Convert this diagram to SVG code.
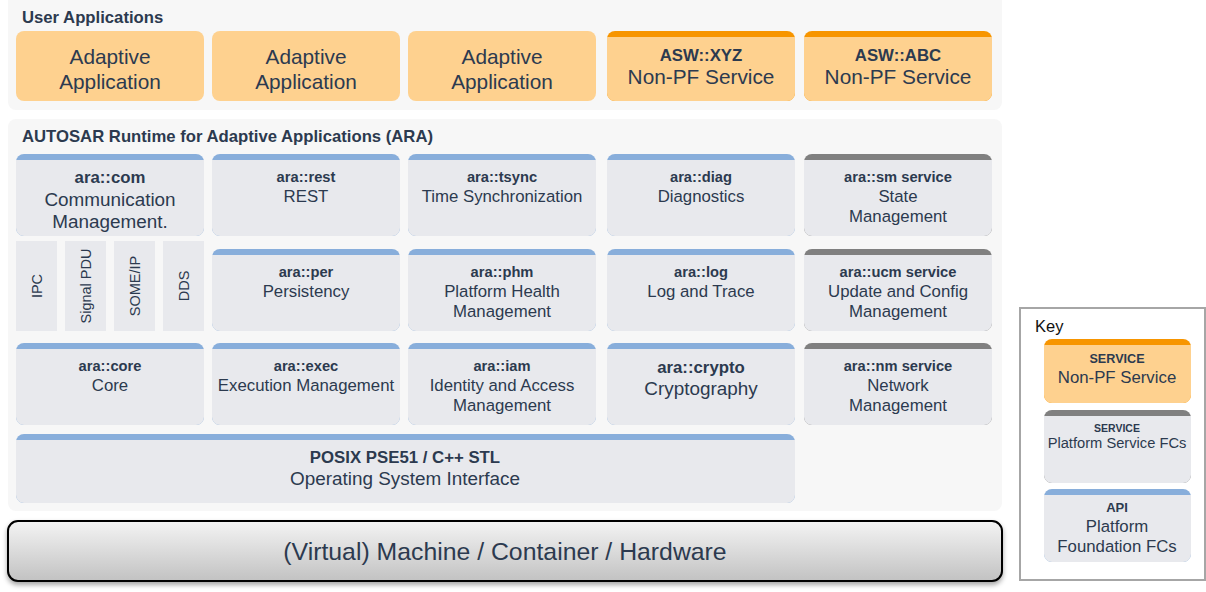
<svg xmlns="http://www.w3.org/2000/svg" width="1206" height="592" viewBox="0 0 1206 592">
<defs>
<style>
text{font-family:"Liberation Sans",Arial,sans-serif;fill:#2c3a4f;text-anchor:middle}
.ttl{font-size:16.7px;font-weight:bold;text-anchor:start}
.b14{font-size:14.7px;font-weight:bold}
.b16{font-size:16.8px;font-weight:bold}
.r16{font-size:16.8px}
.r18{font-size:18.9px}
.r20{font-size:20.8px}
.r14{font-size:14.5px}
.panel{fill:#f7f7f7}
.app{fill:#fed18f}
.obar{fill:#f79500}
.body{fill:#e8e9ed}
.bbar{fill:#88aedb}
.gbar{fill:#808080}
</style>
<linearGradient id="mach" x1="0" y1="0" x2="0" y2="1">
<stop offset="0" stop-color="#f4f4f4"/>
<stop offset="1" stop-color="#c2c2c2"/>
</linearGradient>
<filter id="sh" x="-5%" y="-20%" width="110%" height="150%">
<feDropShadow dx="0" dy="3" stdDeviation="2.5" flood-color="#000" flood-opacity="0.35"/>
</filter>
</defs>
<rect width="1206" height="592" fill="#ffffff"/>

<g id="user-apps">
<rect class="panel" x="8" y="-8" width="994" height="118" rx="8"/>
<text class="ttl" x="22" y="23">User Applications</text>
</g>
<g id="app1"><rect class="app" x="16" y="31" width="188" height="70" rx="8"/><text class="r20" x="110" y="64">Adaptive</text><text class="r20" x="110" y="89">Application</text></g>
<g id="app2"><rect class="app" x="212" y="31" width="188" height="70" rx="8"/><text class="r20" x="306" y="64">Adaptive</text><text class="r20" x="306" y="89">Application</text></g>
<g id="app3"><rect class="app" x="408" y="31" width="188" height="70" rx="8"/><text class="r20" x="502" y="64">Adaptive</text><text class="r20" x="502" y="89">Application</text></g>
<g id="asw-xyz"><rect class="obar" x="607" y="31" width="188" height="70" rx="8"/><path class="app" d="M607,37H795V93a8,8 0 0 1 -8,8H615a8,8 0 0 1 -8,-8Z"/><text class="b16" x="701" y="61">ASW::XYZ</text><text class="r20" x="701" y="84">Non-PF Service</text></g>
<g id="asw-abc"><rect class="obar" x="804" y="31" width="188" height="70" rx="8"/><path class="app" d="M804,37H992V93a8,8 0 0 1 -8,8H812a8,8 0 0 1 -8,-8Z"/><text class="b16" x="898" y="61">ASW::ABC</text><text class="r20" x="898" y="84">Non-PF Service</text></g>

<g id="ara">
<rect class="panel" x="8" y="119" width="994" height="392" rx="8"/>
<text class="ttl" x="22" y="142">AUTOSAR Runtime for Adaptive Applications (ARA)</text>
</g>

<!-- Row 1 -->
<g id="ara-com"><rect class="bbar" x="16" y="154" width="188" height="82" rx="8"/><path class="body" d="M16,160H204V228a8,8 0 0 1 -8,8H24a8,8 0 0 1 -8,-8Z"/><text class="b16" x="110" y="183">ara::com</text><text class="r18" x="110" y="206">Communication</text><text class="r18" x="110" y="228">Management.</text></g>
<g id="ara-rest"><rect class="bbar" x="212" y="154" width="188" height="82" rx="8"/><path class="body" d="M212,160H400V228a8,8 0 0 1 -8,8H220a8,8 0 0 1 -8,-8Z"/><text class="b14" x="306" y="182">ara::rest</text><text class="r16" x="306" y="202">REST</text></g>
<g id="ara-tsync"><rect class="bbar" x="408" y="154" width="188" height="82" rx="8"/><path class="body" d="M408,160H596V228a8,8 0 0 1 -8,8H416a8,8 0 0 1 -8,-8Z"/><text class="b14" x="502" y="182">ara::tsync</text><text class="r16" x="502" y="202">Time Synchronization</text></g>
<g id="ara-diag"><rect class="bbar" x="607" y="154" width="188" height="82" rx="8"/><path class="body" d="M607,160H795V228a8,8 0 0 1 -8,8H615a8,8 0 0 1 -8,-8Z"/><text class="b14" x="701" y="182">ara::diag</text><text class="r16" x="701" y="202">Diagnostics</text></g>
<g id="ara-sm"><rect class="gbar" x="804" y="154" width="188" height="82" rx="8"/><path class="body" d="M804,160H992V228a8,8 0 0 1 -8,8H812a8,8 0 0 1 -8,-8Z"/><text class="b14" x="898" y="182">ara::sm service</text><text class="r16" x="898" y="202">State</text><text class="r16" x="898" y="222">Management</text></g>

<!-- com bindings -->
<g id="ipc"><rect class="body" x="16" y="241" width="41" height="90"/><text class="r14" transform="translate(42,286) rotate(-90)">IPC</text></g>
<g id="signal-pdu"><rect class="body" x="65" y="241" width="41" height="90"/><text class="r14" transform="translate(91,286) rotate(-90)">Signal PDU</text></g>
<g id="someip"><rect class="body" x="114" y="241" width="41" height="90"/><text class="r14" transform="translate(140,286) rotate(-90)">SOME/IP</text></g>
<g id="dds"><rect class="body" x="163" y="241" width="41" height="90"/><text class="r14" transform="translate(189,286) rotate(-90)">DDS</text></g>

<!-- Row 2 -->
<g id="ara-per"><rect class="bbar" x="212" y="249" width="188" height="82" rx="8"/><path class="body" d="M212,255H400V323a8,8 0 0 1 -8,8H220a8,8 0 0 1 -8,-8Z"/><text class="b14" x="306" y="277">ara::per</text><text class="r16" x="306" y="297">Persistency</text></g>
<g id="ara-phm"><rect class="bbar" x="408" y="249" width="188" height="82" rx="8"/><path class="body" d="M408,255H596V323a8,8 0 0 1 -8,8H416a8,8 0 0 1 -8,-8Z"/><text class="b14" x="502" y="277">ara::phm</text><text class="r16" x="502" y="297">Platform Health</text><text class="r16" x="502" y="317">Management</text></g>
<g id="ara-log"><rect class="bbar" x="607" y="249" width="188" height="82" rx="8"/><path class="body" d="M607,255H795V323a8,8 0 0 1 -8,8H615a8,8 0 0 1 -8,-8Z"/><text class="b14" x="701" y="277">ara::log</text><text class="r16" x="701" y="297">Log and Trace</text></g>
<g id="ara-ucm"><rect class="gbar" x="804" y="249" width="188" height="82" rx="8"/><path class="body" d="M804,255H992V323a8,8 0 0 1 -8,8H812a8,8 0 0 1 -8,-8Z"/><text class="b14" x="898" y="277">ara::ucm service</text><text class="r16" x="898" y="297">Update and Config</text><text class="r16" x="898" y="317">Management</text></g>

<!-- Row 3 -->
<g id="ara-core"><rect class="bbar" x="16" y="343" width="188" height="82" rx="8"/><path class="body" d="M16,349H204V417a8,8 0 0 1 -8,8H24a8,8 0 0 1 -8,-8Z"/><text class="b14" x="110" y="371">ara::core</text><text class="r16" x="110" y="391">Core</text></g>
<g id="ara-exec"><rect class="bbar" x="212" y="343" width="188" height="82" rx="8"/><path class="body" d="M212,349H400V417a8,8 0 0 1 -8,8H220a8,8 0 0 1 -8,-8Z"/><text class="b14" x="306" y="371">ara::exec</text><text class="r16" x="306" y="391">Execution Management</text></g>
<g id="ara-iam"><rect class="bbar" x="408" y="343" width="188" height="82" rx="8"/><path class="body" d="M408,349H596V417a8,8 0 0 1 -8,8H416a8,8 0 0 1 -8,-8Z"/><text class="b14" x="502" y="371">ara::iam</text><text class="r16" x="502" y="391">Identity and Access</text><text class="r16" x="502" y="411">Management</text></g>
<g id="ara-crypto"><rect class="bbar" x="607" y="343" width="188" height="82" rx="8"/><path class="body" d="M607,349H795V417a8,8 0 0 1 -8,8H615a8,8 0 0 1 -8,-8Z"/><text class="b16" x="701" y="373">ara::crypto</text><text class="r18" x="701" y="395">Cryptography</text></g>
<g id="ara-nm"><rect class="gbar" x="804" y="343" width="188" height="82" rx="8"/><path class="body" d="M804,349H992V417a8,8 0 0 1 -8,8H812a8,8 0 0 1 -8,-8Z"/><text class="b14" x="898" y="371">ara::nm service</text><text class="r16" x="898" y="391">Network</text><text class="r16" x="898" y="411">Management</text></g>

<!-- POSIX -->
<g id="posix"><rect class="bbar" x="16" y="434" width="779" height="69" rx="8"/><path class="body" d="M16,440H795V495a8,8 0 0 1 -8,8H24a8,8 0 0 1 -8,-8Z"/><text class="b16" x="405" y="463">POSIX PSE51 / C++ STL</text><text class="r18" x="405" y="485">Operating System Interface</text></g>

<!-- Machine -->
<g id="machine"><rect x="8" y="521" width="994" height="60" rx="10" fill="url(#mach)" stroke="#000" stroke-width="2" filter="url(#sh)"/><text x="505" y="560" style="font-size:24.8px">(Virtual) Machine / Container / Hardware</text></g>

<!-- Key -->
<g id="key">
<rect x="1020" y="308" width="185" height="272" fill="#fff" stroke="#a6a6a6" stroke-width="2"/>
<text x="1035" y="332" style="font-size:16.5px;fill:#111;text-anchor:start">Key</text>
</g>
<g id="key-nonpf"><rect class="obar" x="1044" y="339" width="147" height="64" rx="8"/><path class="app" d="M1044,345H1191V395a8,8 0 0 1 -8,8H1052a8,8 0 0 1 -8,-8Z"/><text x="1117" y="363" style="font-size:12.6px;font-weight:bold">SERVICE</text><text class="r16" x="1117" y="383">Non-PF Service</text></g>
<g id="key-service"><rect class="gbar" x="1044" y="410" width="147" height="73" rx="8"/><path class="body" d="M1044,416H1191V475a8,8 0 0 1 -8,8H1052a8,8 0 0 1 -8,-8Z"/><text x="1117" y="432" style="font-size:10.5px;font-weight:bold">SERVICE</text><text x="1117" y="448" style="font-size:14.7px">Platform Service FCs</text></g>
<g id="key-api"><rect class="bbar" x="1044" y="489" width="147" height="73" rx="8"/><path class="body" d="M1044,495H1191V554a8,8 0 0 1 -8,8H1052a8,8 0 0 1 -8,-8Z"/><text x="1117" y="512" style="font-size:13px;font-weight:bold">API</text><text class="r16" x="1117" y="532">Platform</text><text class="r16" x="1117" y="552">Foundation FCs</text></g>

<g id="connectors"/>
</svg>
